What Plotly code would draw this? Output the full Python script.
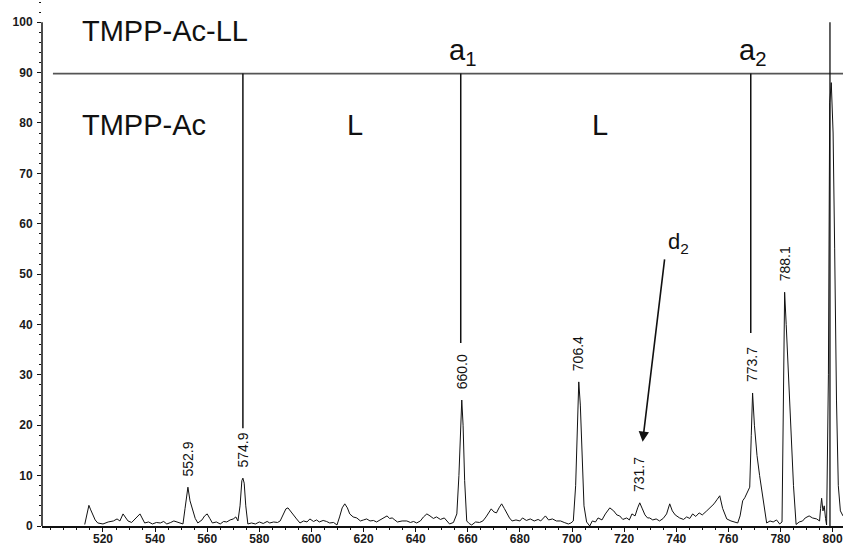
import plotly.graph_objects as go

# Spectrum trace (m/z, relative intensity %)
spec_mz = [513.0, 514.0, 514.6, 515.3, 516.0, 517.0, 518.0, 520.0, 522.0, 524.0, 525.4, 526.5, 527.7, 528.6, 529.6,
           531.0, 532.5, 534.2, 535.0, 536.0, 537.5, 539.0, 540.5, 542.0, 543.3, 544.5, 546.0, 547.2, 548.4, 549.5,
           550.7, 551.5, 552.6, 553.4, 554.5, 555.4, 556.4, 558.0, 559.0, 560.0, 561.0, 562.0, 563.5, 565.0, 566.3,
           567.5, 568.8, 570.0, 571.0, 571.8, 572.6, 573.3, 573.7, 574.2, 574.8, 575.6, 577.0, 578.5, 580.0, 581.5,
           583.0, 584.0, 585.5, 587.0, 588.0, 589.3, 590.2, 591.0, 592.0, 593.0, 594.3, 595.6, 597.0, 598.3, 599.4,
           600.8, 602.0, 603.0, 604.5, 605.8, 607.0, 608.5, 609.8, 610.8, 611.8, 612.8, 613.8, 614.7, 616.0, 617.4,
           618.8, 620.0, 621.2, 622.5, 623.8, 625.0, 626.5, 628.0, 629.0, 630.0, 631.0, 632.0, 633.0, 634.8, 636.6,
           638.0, 639.2, 640.4, 641.8, 643.0, 644.3, 645.5, 646.8, 648.0, 649.5, 651.0, 652.0, 653.0, 654.5, 655.8,
           656.6, 657.2, 657.7, 658.2, 658.8, 659.6, 660.5, 661.5, 663.0, 664.5, 665.8, 667.0, 668.0, 669.0, 670.0,
           671.0, 672.0, 673.0, 674.0, 675.0, 676.0, 677.0, 678.5, 680.0, 681.0, 682.5, 684.0, 685.5, 687.0, 688.0,
           689.0, 689.8, 691.0, 692.5, 694.0, 695.6, 697.0, 698.6, 699.6, 700.5, 701.4, 702.0, 702.6, 703.2, 703.8,
           704.6, 705.6, 706.8, 707.8, 709.0, 710.0, 711.5, 712.8, 714.5, 716.0, 717.2, 718.3, 719.5, 721.0, 722.0,
           723.0, 724.2, 725.2, 726.0, 727.0, 728.0, 729.0, 729.8, 731.0, 732.3, 733.6, 735.0, 736.3, 737.5, 738.5,
           739.6, 741.3, 742.8, 744.0, 745.2, 746.3, 747.5, 748.8, 750.0, 751.7, 753.0, 754.5, 755.6, 756.7, 757.8,
           759.4, 761.0, 762.4, 763.6, 764.5, 765.5, 766.3, 767.0, 768.2, 768.8, 769.3, 770.0, 771.0, 772.0, 772.8,
           773.8, 774.7, 776.0, 777.2, 778.5, 779.7, 780.6, 781.0, 781.6, 782.2, 783.0, 784.0, 785.0, 786.0, 787.2,
           788.5, 789.5, 791.0, 792.3, 793.9, 795.0, 795.4, 795.8, 796.3, 796.8, 797.3, 797.7, 798.4, 798.9, 799.5,
           800.2, 800.8, 801.5, 802.2, 803.0, 804.0]
spec_int = [0.3, 3.0, 4.1, 3.2, 2.4, 1.2, 0.6, 0.4, 0.8, 1.0, 1.4, 1.0, 2.4, 1.8, 1.0,
            0.7, 1.5, 2.4, 1.6, 0.6, 0.8, 0.4, 0.7, 0.6, 0.9, 0.4, 0.7, 1.0, 0.8, 0.6,
            0.4, 3.5, 7.7, 5.0, 3.0, 1.5, 0.6, 1.2, 2.0, 2.4, 1.5, 0.6, 0.8, 0.4, 0.9,
            0.8, 1.2, 1.4, 1.8, 1.0, 4.0, 9.0, 9.5, 8.5, 4.0, 0.4, 0.6, 0.4, 0.8, 0.5,
            0.9, 0.6, 0.8, 0.7, 1.0, 2.4, 3.4, 3.6, 3.0, 2.4, 1.4, 0.6, 1.0, 0.8, 1.4,
            0.9, 1.2, 0.8, 1.1, 0.9, 0.6, 0.7, 0.2, 1.8, 3.6, 4.4, 3.6, 2.4, 1.8, 1.6,
            1.0, 1.2, 1.4, 1.0, 1.1, 0.8, 1.2, 1.7, 2.0, 1.5, 1.6, 1.2, 0.8, 1.0, 1.0,
            0.7, 0.9, 0.6, 1.0, 1.8, 2.4, 2.0, 1.5, 1.8, 1.3, 1.6, 1.0, 0.4, 0.7, 2.4,
            10.0, 20.0, 25.0, 20.0, 9.0, 1.0, 0.5, 0.2, 0.8, 0.7, 1.0, 1.8, 2.6, 3.4, 2.8,
            2.6, 3.6, 4.4, 3.5, 2.6, 1.6, 1.0, 1.2, 1.0, 1.6, 1.1, 1.4, 1.0, 1.3, 1.0,
            1.6, 2.0, 1.2, 1.4, 1.0, 1.0, 0.7, 0.4, 0.6, 1.0, 8.0, 20.0, 28.6, 24.0, 14.0,
            4.0, 0.8, 0.0, 1.0, 0.8, 1.6, 1.2, 2.4, 3.6, 3.0, 2.2, 2.0, 1.3, 1.6, 1.2,
            2.4, 2.0, 3.6, 4.6, 3.4, 2.2, 1.6, 1.6, 1.2, 1.4, 1.0, 1.5, 2.4, 4.4, 3.0,
            2.2, 1.6, 1.3, 1.8, 1.5, 2.4, 1.9, 2.6, 2.2, 3.0, 3.6, 4.4, 5.2, 6.0, 3.5,
            1.4, 1.0, 0.8, 0.6, 2.0, 5.0, 5.6, 6.5, 7.7, 18.0, 26.4, 20.0, 14.0, 10.0, 7.0,
            3.0, 0.6, 1.0, 0.8, 1.2, 0.4, 0.8, 20.0, 46.4, 40.0, 30.0, 18.0, 8.0, 0.3, 0.8,
            1.0, 1.6, 2.0, 1.6, 1.4, 1.0, 3.5, 5.5, 3.0, 4.0, 1.5, 0.2, 30.0, 84.0, 88.0,
            78.0, 55.0, 25.0, 8.0, 3.0, 2.0]

# Peak labels
label_mz = [552.6, 573.7, 657.7, 702.6, 726.0, 769.3, 781.6]
label_int = [7.7, 9.5, 25.0, 28.6, 4.6, 26.4, 46.4]
label_text = ["552.9", "574.9", "660.0", "706.4", "731.7", "773.7", "788.1"]

# Fragment ladder lines
ladder_level = 89.8
ladder_start = 500.8
ladder_end = 804.0
vline_mz = [573.7, 657.3, 768.6]
vline_bottom = [19.4, 36.3, 38.3]
parent_mz = 799.0
parent_top = 100.0

x_ticks = list(range(520, 801, 20))
y_ticks = list(range(0, 101, 10))

FONT = "Liberation Sans, Arial, sans-serif"

fig = go.Figure()
fig.add_trace(go.Scatter(x=spec_mz, y=spec_int, mode="lines",
                         line=dict(color="#111111", width=1), hoverinfo="skip", showlegend=False))

shapes = []
shapes.append(dict(type="line", xref="x", yref="y", x0=ladder_start, x1=ladder_end,
                   y0=ladder_level, y1=ladder_level, line=dict(color="#555555", width=1.8)))
for mz, yb in zip(vline_mz, vline_bottom):
    shapes.append(dict(type="line", xref="x", yref="y", x0=mz, x1=mz, y0=yb, y1=ladder_level,
                       line=dict(color="#111111", width=1.5)))
shapes.append(dict(type="line", xref="x", yref="y", x0=parent_mz, x1=parent_mz, y0=0, y1=parent_top,
                   line=dict(color="#111111", width=1.3)))
# y axis line 0..100
shapes.append(dict(type="line", xref="paper", yref="y", x0=0, x1=0, y0=0, y1=100,
                   line=dict(color="#111111", width=1.5)))

annotations = []
for mz, h, t in zip(label_mz, label_int, label_text):
    annotations.append(dict(x=mz, y=h, xref="x", yref="y", text=t, textangle=-90,
                            showarrow=False, yanchor="bottom", xanchor="center", yshift=10,
                            borderpad=0, font=dict(family=FONT, size=14, color="#111111")))

big = dict(family=FONT, size=29, color="#111111")
annotations += [
    dict(x=511.2, y=98.2, xref="x", yref="y", text="TMPP-Ac-LL", showarrow=False,
         xanchor="left", yanchor="middle", font=big),
    dict(x=511.2, y=79.6, xref="x", yref="y", text="TMPP-Ac", showarrow=False,
         xanchor="left", yanchor="middle", font=big),
    dict(x=616.7, y=79.6, xref="x", yref="y", text="L", showarrow=False,
         xanchor="center", yanchor="middle", font=big),
    dict(x=710.6, y=79.6, xref="x", yref="y", text="L", showarrow=False,
         xanchor="center", yanchor="middle", font=big),
    dict(x=658.0, y=90.3, xref="x", yref="y", text="a<sub>1</sub>", showarrow=False,
         xanchor="center", yanchor="bottom", borderpad=0, font=big),
    dict(x=769.2, y=90.3, xref="x", yref="y", text="a<sub>2</sub>", showarrow=False,
         xanchor="center", yanchor="bottom", borderpad=0, font=big),
    dict(x=741.0, y=56.2, xref="x", yref="y", text="d<sub>2</sub>", showarrow=False,
         xanchor="center", yanchor="middle", font=dict(family=FONT, size=22, color="#111111")),
    dict(x=727.1, y=16.7, xref="x", yref="y", ax=735.6, ay=53.2, axref="x", ayref="y",
         text="", showarrow=True, arrowhead=2, arrowsize=1.3, arrowwidth=1.6, arrowcolor="#111111"),
]

tickfont = dict(family=FONT, size=12, color="#1a1a1a", weight="bold")

fig.update_layout(
    width=843, height=545,
    margin=dict(l=42, r=0, t=0, b=19, autoexpand=False),
    paper_bgcolor="white", plot_bgcolor="white",
    shapes=shapes, annotations=annotations,
    xaxis=dict(range=[496.6, 804.0], tickvals=x_ticks, ticks="outside", ticklen=4,
               tickcolor="#111111", showline=True, linecolor="#111111", linewidth=1.5,
               showgrid=False, zeroline=False, automargin=False, ticklabelstandoff=-3,
               minor=dict(dtick=5, tick0=520, ticks="outside", ticklen=2, tickcolor="#111111"),
               tickfont=tickfont),
    yaxis=dict(range=[0, 104.4], tickvals=y_ticks, ticks="outside", ticklen=4,
               tickcolor="#111111", showline=False, showgrid=False, zeroline=False,
               automargin=False, ticklabelstandoff=2,
               minor=dict(dtick=2, ticks="outside", ticklen=2, tickcolor="#111111"),
               tickfont=tickfont),
)

fig.write_html("out.html", config={"displayModeBar": False},
               post_script="document.body.style.margin='0';document.body.style.overflow='hidden';")
